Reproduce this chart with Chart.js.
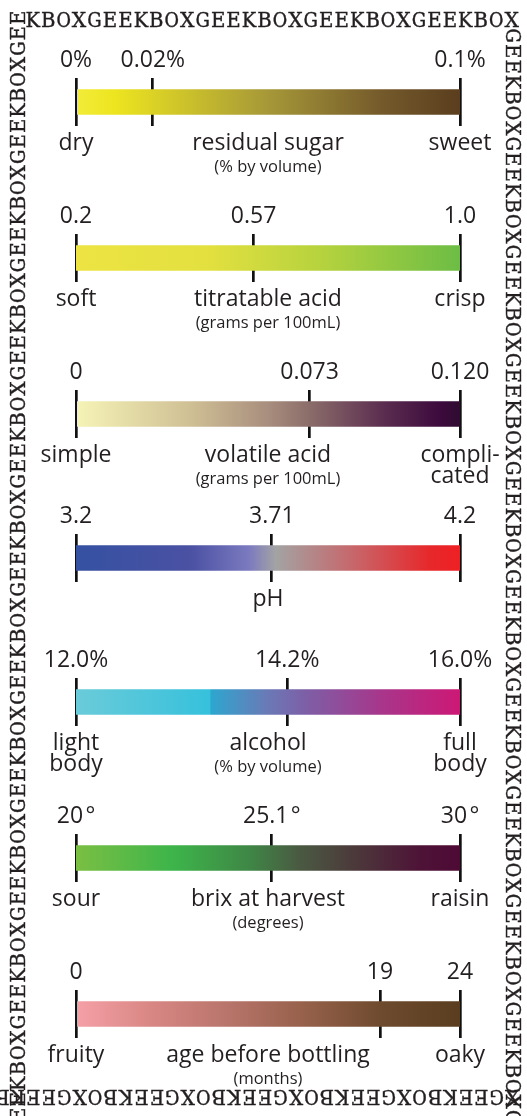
<!DOCTYPE html>
<html>
<head>
<meta charset="utf-8">
<script src="https://cdn.jsdelivr.net/npm/chart.js@4.4.0/dist/chart.umd.min.js"></script>
<style>
  html, body { margin: 0; padding: 0; background: #fff; }
  #page { position: relative; width: 527px; height: 1116px; overflow: hidden; }
  #border { position: absolute; left: 0; top: 0; }
  .row { position: absolute; left: 0; width: 527px; height: 138px; }
</style>
</head>
<body>
<div id="page">
  <canvas id="border" width="527" height="1116"></canvas>
</div>
<script>
// wine properties, one bar each
const properties = ['residual sugar', 'titratable acid', 'volatile acid', 'pH', 'alcohol', 'brix at harvest', 'age before bottling'];
const units = ['(% by volume)', '(grams per 100mL)', '(grams per 100mL)', '', '(% by volume)', '(degrees)', '(months)'];
const scaleMin = [0, 0.2, 0, 3.2, 12.0, 20, 0];
const scaleMax = [0.1, 1.0, 0.120, 4.2, 16.0, 30, 24];
const wineValues = [0.02, 0.57, 0.073, 3.71, 14.2, 25.1, 19];
const tickLabels = [
  ['0%', '0.02%', '0.1%'],
  ['0.2', '0.57', '1.0'],
  ['0', '0.073', '0.120'],
  ['3.2', '3.71', '4.2'],
  ['12.0%', '14.2%', '16.0%'],
  ['20\u200A\u00B0', '25.1\u200A\u00B0', '30\u200A\u00B0'],
  ['0', '19', '24']
];
const lowLabels = ['dry', 'soft', 'simple', '', ['light', 'body'], 'sour', 'fruity'];
const highLabels = ['sweet', 'crisp', ['compli-', 'cated'], '', ['full', 'body'], 'raisin', 'oaky'];

// layout + colours
const barTops = [90, 246, 402, 546, 690, 846, 1002];
const gradients = [
  [[0, '#f2ec3a'], [0.1, '#ede51f'], [0.2, '#dbd226'], [0.5, '#a69838'], [0.8, '#74592b'], [1, '#5a3e1e']],
  [[0, '#ede443'], [0.35, '#e2e03f'], [0.65, '#b4d23e'], [1, '#6cbd45']],
  [[0, '#f6f4b7'], [0.3, '#cfbf94'], [0.5, '#a88e7e'], [0.6, '#8d6f6b'], [0.8, '#5b2d50'], [0.95, '#3c0a3d'], [1, '#2f0c2f']],
  [[0, '#3551a2'], [0.3, '#4b51a3'], [0.45, '#7b7abf'], [0.52, '#a3a3a3'], [0.72, '#c7676b'], [0.92, '#e7282b'], [1, '#ee2024']],
  [[0, '#6acbd9'], [0.349, '#36c1dc'], [0.351, '#2ea6cf'], [0.5, '#6b79b6'], [0.6, '#7e5ea6'], [0.8, '#a9358a'], [1, '#cd1875']],
  [[0, '#7abf43'], [0.25, '#3db54a'], [0.45, '#3f8746'], [0.58, '#4a5a42'], [0.72, '#4c3a3b'], [0.9, '#4e1237'], [1, '#4d0a35']],
  [[0, '#f5a0a7'], [0.2, '#d88683'], [0.4, '#b7746a'], [0.6, '#956049'], [0.8, '#6d4a2d'], [1, '#5a3d1f']]
];
const ink = '#231f20';
const sans = '"Open Sans", "Noto Sans", sans-serif';
const slab = '"DejaVu Serif", "Liberation Serif", serif';

// GEEKBOX frame round the page, one letter per fixed cell
const b = document.getElementById('border').getContext('2d');
b.font = '100px ' + slab;
const capRatio = b.measureText('E').actualBoundingBoxAscent / 100 || 0.73;
b.font = (15 / capRatio).toFixed(2) + 'px ' + slab;
b.fillStyle = ink;
b.strokeStyle = ink;
b.lineWidth = 0.4;
b.textAlign = 'center';
const pitch = 15.45;
const edge = (text, x, y, angle) => {
  b.save();
  b.translate(x, y);
  b.rotate(angle);
  [...text].forEach((ch, k) => {
    const cx = k * pitch + pitch / 2;
    b.fillText(ch, cx, 0, pitch - 1);
    b.strokeText(ch, cx, 0, pitch - 1);
  });
  b.restore();
};
const leftRun = 'KBOXGEE'.repeat(11);
edge('KBOXGEE'.repeat(5).slice(0, 32), 25, 27, 0);
edge(leftRun, 25, 10 + leftRun.length * pitch, -Math.PI / 2);
edge('GEEKBOX'.repeat(11), 506, 28, Math.PI / 2);
edge('XGEEKBO'.repeat(5), 520, 1090, Math.PI);

const fill = (chart, stops) => {
  const area = chart.chartArea;
  if (!area) return stops[0][1];
  const g = chart.ctx.createLinearGradient(area.left, 0, area.right, 0);
  stops.forEach(([p, c]) => g.addColorStop(p, c));
  return g;
};

// words under each bar: low end, property name + unit, high end
const captions = {
  id: 'captions',
  afterDraw(chart, args, opts) {
    const { ctx, chartArea } = chart;
    const x = chart.scales.x;
    const base = chartArea.bottom + 24;
    ctx.save();
    ctx.fillStyle = ink;
    ctx.textAlign = 'center';
    ctx.textBaseline = 'alphabetic';
    ctx.font = '23px ' + sans;
    const put = (text, px) => [].concat(text).forEach((line, n) => ctx.fillText(line, px, base + n * 21));
    put(opts.low, x.getPixelForValue(x.min));
    put(opts.name, x.getPixelForValue((x.min + x.max) / 2));
    put(opts.high, x.getPixelForValue(x.max));
    ctx.font = '16.5px ' + sans;
    ctx.fillText(opts.unit, x.getPixelForValue((x.min + x.max) / 2), base + 21.5);
    ctx.restore();
  }
};

const page = document.getElementById('page');

const makeRow = (i) => {
  const wrap = document.createElement('div');
  wrap.className = 'row';
  wrap.style.top = (barTops[i] - 42) + 'px';
  const canvas = document.createElement('canvas');
  canvas.width = 527;
  canvas.height = 138;
  wrap.appendChild(canvas);
  page.appendChild(wrap);

  const topTicks = [scaleMin[i], wineValues[i], scaleMax[i]];

  new Chart(canvas, {
    type: 'bar',
    data: {
      labels: [properties[i]],
      datasets: [{
        data: [[scaleMin[i], scaleMax[i]]],
        backgroundColor: (ctx) => fill(ctx.chart, gradients[i]),
        borderWidth: 0,
        barThickness: 25
      }]
    },
    plugins: [captions],
    options: {
      indexAxis: 'y',
      responsive: false,
      animation: false,
      events: [],
      layout: { padding: { left: 76, right: 67, top: 0, bottom: 60 } },
      plugins: {
        legend: { display: false },
        tooltip: { enabled: false },
        captions: { low: lowLabels[i], name: properties[i], high: highLabels[i], unit: units[i] }
      },
      scales: {
        x: {
          type: 'linear',
          position: 'top',
          min: scaleMin[i],
          max: scaleMax[i],
          z: 1,
          afterBuildTicks: (s) => { s.ticks = topTicks.map(v => ({ value: v })); },
          afterFit: (s) => { s.height = 30; },
          grid: { color: '#111', lineWidth: 2.7, drawTicks: false },
          border: { display: false },
          ticks: {
            autoSkip: false,
            maxRotation: 0,
            minRotation: 0,
            padding: 6,
            color: ink,
            font: { family: sans, size: 23, lineHeight: 1 },
            callback: (v, k) => tickLabels[i][k]
          }
        },
        y: { display: false }
      }
    }
  });
};

properties.forEach((p, i) => makeRow(i));
</script>
</body>
</html>
